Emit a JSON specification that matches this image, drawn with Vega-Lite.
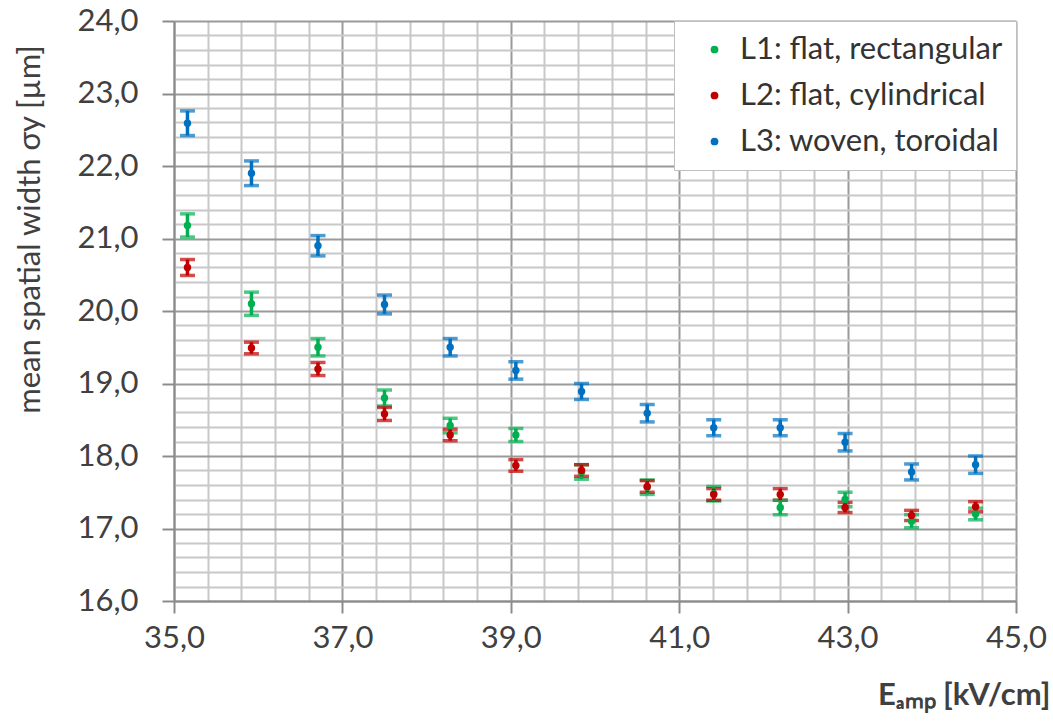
{
  "$schema": "https://vega.github.io/schema/vega-lite/v6.json",
  "width": 842,
  "height": 580,
  "autosize": {"type": "none"},
  "padding": {"left": 174, "top": 21, "right": 37, "bottom": 124},
  "background": "white",
  "data": {
    "values": [
      {"E": 35.16, "series": "L1: flat, rectangular", "sigma": 21.18, "err": 0.16},
      {"E": 35.92, "series": "L1: flat, rectangular", "sigma": 20.10, "err": 0.16},
      {"E": 36.71, "series": "L1: flat, rectangular", "sigma": 19.50, "err": 0.12},
      {"E": 37.50, "series": "L1: flat, rectangular", "sigma": 18.80, "err": 0.11},
      {"E": 38.28, "series": "L1: flat, rectangular", "sigma": 18.42, "err": 0.10},
      {"E": 39.06, "series": "L1: flat, rectangular", "sigma": 18.29, "err": 0.09},
      {"E": 39.84, "series": "L1: flat, rectangular", "sigma": 17.78, "err": 0.10},
      {"E": 40.62, "series": "L1: flat, rectangular", "sigma": 17.57, "err": 0.10},
      {"E": 41.41, "series": "L1: flat, rectangular", "sigma": 17.48, "err": 0.10},
      {"E": 42.20, "series": "L1: flat, rectangular", "sigma": 17.29, "err": 0.10},
      {"E": 42.97, "series": "L1: flat, rectangular", "sigma": 17.40, "err": 0.10},
      {"E": 43.76, "series": "L1: flat, rectangular", "sigma": 17.10, "err": 0.09},
      {"E": 44.52, "series": "L1: flat, rectangular", "sigma": 17.20, "err": 0.08},
      {"E": 35.16, "series": "L2: flat, cylindrical", "sigma": 20.60, "err": 0.11},
      {"E": 35.92, "series": "L2: flat, cylindrical", "sigma": 19.49, "err": 0.08},
      {"E": 36.71, "series": "L2: flat, cylindrical", "sigma": 19.20, "err": 0.09},
      {"E": 37.50, "series": "L2: flat, cylindrical", "sigma": 18.58, "err": 0.09},
      {"E": 38.28, "series": "L2: flat, cylindrical", "sigma": 18.29, "err": 0.08},
      {"E": 39.06, "series": "L2: flat, cylindrical", "sigma": 17.87, "err": 0.08},
      {"E": 39.84, "series": "L2: flat, cylindrical", "sigma": 17.80, "err": 0.08},
      {"E": 40.62, "series": "L2: flat, cylindrical", "sigma": 17.58, "err": 0.08},
      {"E": 41.41, "series": "L2: flat, cylindrical", "sigma": 17.47, "err": 0.08},
      {"E": 42.20, "series": "L2: flat, cylindrical", "sigma": 17.47, "err": 0.08},
      {"E": 42.97, "series": "L2: flat, cylindrical", "sigma": 17.29, "err": 0.07},
      {"E": 43.76, "series": "L2: flat, cylindrical", "sigma": 17.18, "err": 0.07},
      {"E": 44.52, "series": "L2: flat, cylindrical", "sigma": 17.30, "err": 0.07},
      {"E": 35.16, "series": "L3: woven, toroidal", "sigma": 22.59, "err": 0.17},
      {"E": 35.92, "series": "L3: woven, toroidal", "sigma": 21.90, "err": 0.17},
      {"E": 36.71, "series": "L3: woven, toroidal", "sigma": 20.90, "err": 0.14},
      {"E": 37.50, "series": "L3: woven, toroidal", "sigma": 20.09, "err": 0.13},
      {"E": 38.28, "series": "L3: woven, toroidal", "sigma": 19.50, "err": 0.12},
      {"E": 39.06, "series": "L3: woven, toroidal", "sigma": 19.18, "err": 0.12},
      {"E": 39.84, "series": "L3: woven, toroidal", "sigma": 18.89, "err": 0.11},
      {"E": 40.62, "series": "L3: woven, toroidal", "sigma": 18.59, "err": 0.12},
      {"E": 41.41, "series": "L3: woven, toroidal", "sigma": 18.39, "err": 0.11},
      {"E": 42.20, "series": "L3: woven, toroidal", "sigma": 18.39, "err": 0.11},
      {"E": 42.97, "series": "L3: woven, toroidal", "sigma": 18.19, "err": 0.12},
      {"E": 43.76, "series": "L3: woven, toroidal", "sigma": 17.78, "err": 0.11},
      {"E": 44.52, "series": "L3: woven, toroidal", "sigma": 17.88, "err": 0.12}
    ]
  },
  "encoding": {
    "x": {
      "field": "E",
      "type": "quantitative",
      "scale": {"domain": [35, 45], "nice": false, "zero": false},
      "axis": {
        "values": [35, 35.4, 35.8, 36.2, 36.6, 37, 37.4, 37.8, 38.2, 38.6, 39, 39.4, 39.8, 40.2, 40.6, 41, 41.4, 41.8, 42.2, 42.6, 43, 43.4, 43.8, 44.2, 44.6, 45],
        "labelExpr": "abs(datum.value - round(datum.value)) < 0.01 && round(datum.value) % 2 == 1 ? replace(format(datum.value, '.1f'), '.', ',') : ''",
        "labelOverlap": false,
        "labelFlush": false,
        "labelBound": false,
        "labelFont": "Lato",
        "labelFontSize": 31,
        "labelColor": "#404040",
        "labelPadding": 10,
        "grid": true,
        "gridWidth": 2,
        "gridColor": {"condition": {"test": "abs(datum.value - round(datum.value)) < 0.01 && round(datum.value) % 2 == 1", "value": "#9a9a9a"}, "value": "#c8c8c8"},
        "tickSize": {"condition": {"test": "abs(datum.value - round(datum.value)) < 0.01 && round(datum.value) % 2 == 1", "value": 12}, "value": 0},
        "tickColor": "#8c8c8c",
        "tickWidth": 2,
        "domainColor": "#8c8c8c",
        "domainWidth": 2,
        "title": "Eₐₘₚ [kV/cm]",
        "titleFont": "Lato",
        "titleFontSize": 31,
        "titleFontWeight": "bold",
        "titleColor": "#404040",
        "titleAnchor": "end",
        "titleAlign": "right",
        "titleBaseline": "middle",
        "titleX": 876,
        "titleY": 94
      }
    },
    "y": {
      "field": "sigma",
      "type": "quantitative",
      "scale": {"domain": [16, 24], "nice": false, "zero": false},
      "axis": {
        "values": [16, 16.2, 16.4, 16.6, 16.8, 17, 17.2, 17.4, 17.6, 17.8, 18, 18.2, 18.4, 18.6, 18.8, 19, 19.2, 19.4, 19.6, 19.8, 20, 20.2, 20.4, 20.6, 20.8, 21, 21.2, 21.4, 21.6, 21.8, 22, 22.2, 22.4, 22.6, 22.8, 23, 23.2, 23.4, 23.6, 23.8, 24],
        "labelExpr": "abs(datum.value - round(datum.value)) < 0.01 ? replace(format(datum.value, '.1f'), '.', ',') : ''",
        "labelOverlap": false,
        "labelFlush": false,
        "labelBound": false,
        "labelFont": "Lato",
        "labelFontSize": 31,
        "labelColor": "#404040",
        "labelPadding": 24,
        "grid": true,
        "gridWidth": 2,
        "gridColor": {"condition": {"test": "abs(datum.value - round(datum.value)) < 0.01", "value": "#9a9a9a"}, "value": "#c8c8c8"},
        "tickSize": {"condition": {"test": "abs(datum.value - round(datum.value)) < 0.01", "value": 12}, "value": 0},
        "tickColor": "#8c8c8c",
        "tickWidth": 2,
        "domainColor": "#8c8c8c",
        "domainWidth": 2,
        "title": "mean spatial width  σy [µm]",
        "titleFont": "Lato",
        "titleFontSize": 31,
        "titleFontWeight": "normal",
        "titleColor": "#404040",
        "titleAngle": 270,
        "titleAlign": "center",
        "titleBaseline": "middle",
        "titleX": -144,
        "titleY": 208
      }
    },
    "color": {
      "field": "series",
      "type": "nominal",
      "scale": {
        "domain": ["L1: flat, rectangular", "L2: flat, cylindrical", "L3: woven, toroidal"],
        "range": ["#00B050", "#C00000", "#0070C0"]
      },
      "legend": {
        "title": null,
        "orient": "top-right",
        "offset": 0,
        "symbolType": "circle",
        "symbolSize": 60,
        "symbolStrokeWidth": 0,
        "symbolOpacity": 1,
        "symbolOffset": 12,
        "labelFont": "Lato",
        "labelFontSize": 31,
        "labelLimit": 500,
        "labelColor": "#333333",
        "labelOffset": 10,
        "rowPadding": 14,
        "padding": 13,
        "strokeColor": "#bfbfbf",
        "fillColor": "white"
      }
    }
  },
  "layer": [
    {
      "mark": {"type": "errorbar", "ticks": true, "size": 15, "thickness": 3.5},
      "encoding": {"yError": {"field": "err"}}
    },
    {
      "mark": {"type": "point", "shape": "circle", "filled": true, "size": 55, "opacity": 1}
    }
  ],
  "config": {"view": {"stroke": null}}
}
